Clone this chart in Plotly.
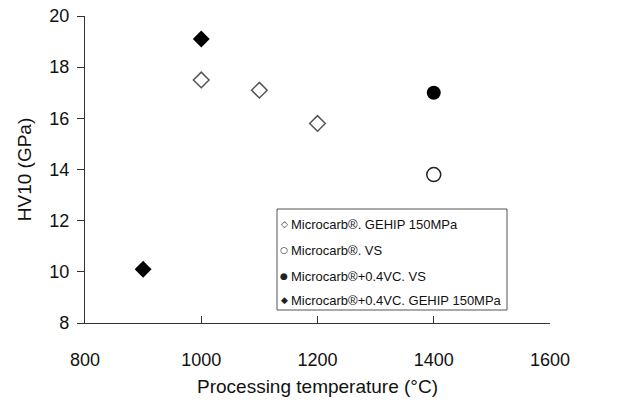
import plotly.graph_objects as go

# Data
gehip_x = [1000, 1100, 1200]
gehip_y = [17.5, 17.1, 15.8]
vs_x = [1400]
vs_y = [13.8]
vc_vs_x = [1400]
vc_vs_y = [17.0]
vc_gehip_x = [900, 1000]
vc_gehip_y = [10.1, 19.1]

names = ["Microcarb\u00ae. GEHIP 150MPa", "Microcarb\u00ae. VS",
         "Microcarb\u00ae+0.4VC. VS", "Microcarb\u00ae+0.4VC. GEHIP 150MPa"]
legend_glyphs = ["\u25c7", "\u25cb", "\u25cf", "\u25c6"]
x_ticks = [800, 1000, 1200, 1400, 1600]
y_ticks = [8, 10, 12, 14, 16, 18, 20]

styles = [
    dict(symbol="diamond-open", color="#555555", size=12, line=dict(width=1.5, color="#555555")),
    dict(symbol="circle-open", color="#222222", size=14, line=dict(width=1.5, color="#222222")),
    dict(symbol="circle", color="#000000", size=14),
    dict(symbol="diamond", color="#000000", size=13),
]
xs = [gehip_x, vs_x, vc_vs_x, vc_gehip_x]
ys = [gehip_y, vs_y, vc_vs_y, vc_gehip_y]

fig = go.Figure()
for i in range(4):
    fig.add_trace(go.Scatter(x=xs[i], y=ys[i], mode="markers", marker=styles[i],
                             name=names[i], showlegend=False, cliponaxis=False))

# page body has an 8px margin; figure is sized to fill the rest of the window
OFF = 8
FW, FH = 620 - OFF, 404 - OFF
L, R, B, T = 85 - OFF, 550 - OFF, 323 - OFF, 16 - OFF
W, H = R - L, B - T
def px(xp):
    return (xp - OFF - L) / W
def py(yp):
    return (B - (yp - OFF)) / H

fig.add_shape(type="rect", xref="paper", yref="paper",
              x0=px(277), x1=px(507), y0=py(310), y1=py(209),
              line=dict(color="#555555", width=1), fillcolor="white", layer="above")
row_y = [224, 250, 276, 300]
for i in range(4):
    fig.add_annotation(xref="paper", yref="paper", x=px(284), y=py(row_y[i]),
                       text=legend_glyphs[i], showarrow=False, xanchor="center", yanchor="middle",
                       font=dict(size=9, color="#222222", family="DejaVu Sans"))
    fig.add_annotation(xref="paper", yref="paper", x=px(289), y=py(row_y[i]),
                       text=names[i], showarrow=False, xanchor="left", yanchor="middle",
                       font=dict(size=13, color="#111111"))

fig.update_layout(
    width=FW, height=FH,
    margin=dict(l=L, r=FW - R, t=T, b=FH - B),
    paper_bgcolor="white", plot_bgcolor="white",
    font=dict(family="Liberation Sans, Arial, sans-serif", color="#111111"),
    showlegend=False,
)
fig.update_xaxes(range=[800, 1600], tickvals=x_ticks, automargin=False,
                 showgrid=False, zeroline=False, showline=True, linecolor="#333333", linewidth=1.2,
                 ticks="inside", ticklen=7, tickcolor="#333333", ticklabelstandoff=20,
                 ticklabeloverflow="allow",
                 tickfont=dict(size=18), title=dict(text="Processing temperature (\u00b0C)", font=dict(size=19), standoff=10))
fig.update_yaxes(range=[8, 20], tickvals=y_ticks, automargin=False,
                 showgrid=False, zeroline=False, showline=True, linecolor="#333333", linewidth=1.2,
                 ticks="outside", ticklen=7, tickcolor="#333333", ticklabelstandoff=4,
                 ticklabeloverflow="allow",
                 tickfont=dict(size=18), title=dict(text="HV10 (GPa)", font=dict(size=19), standoff=12))

fig.write_html("out.html")
